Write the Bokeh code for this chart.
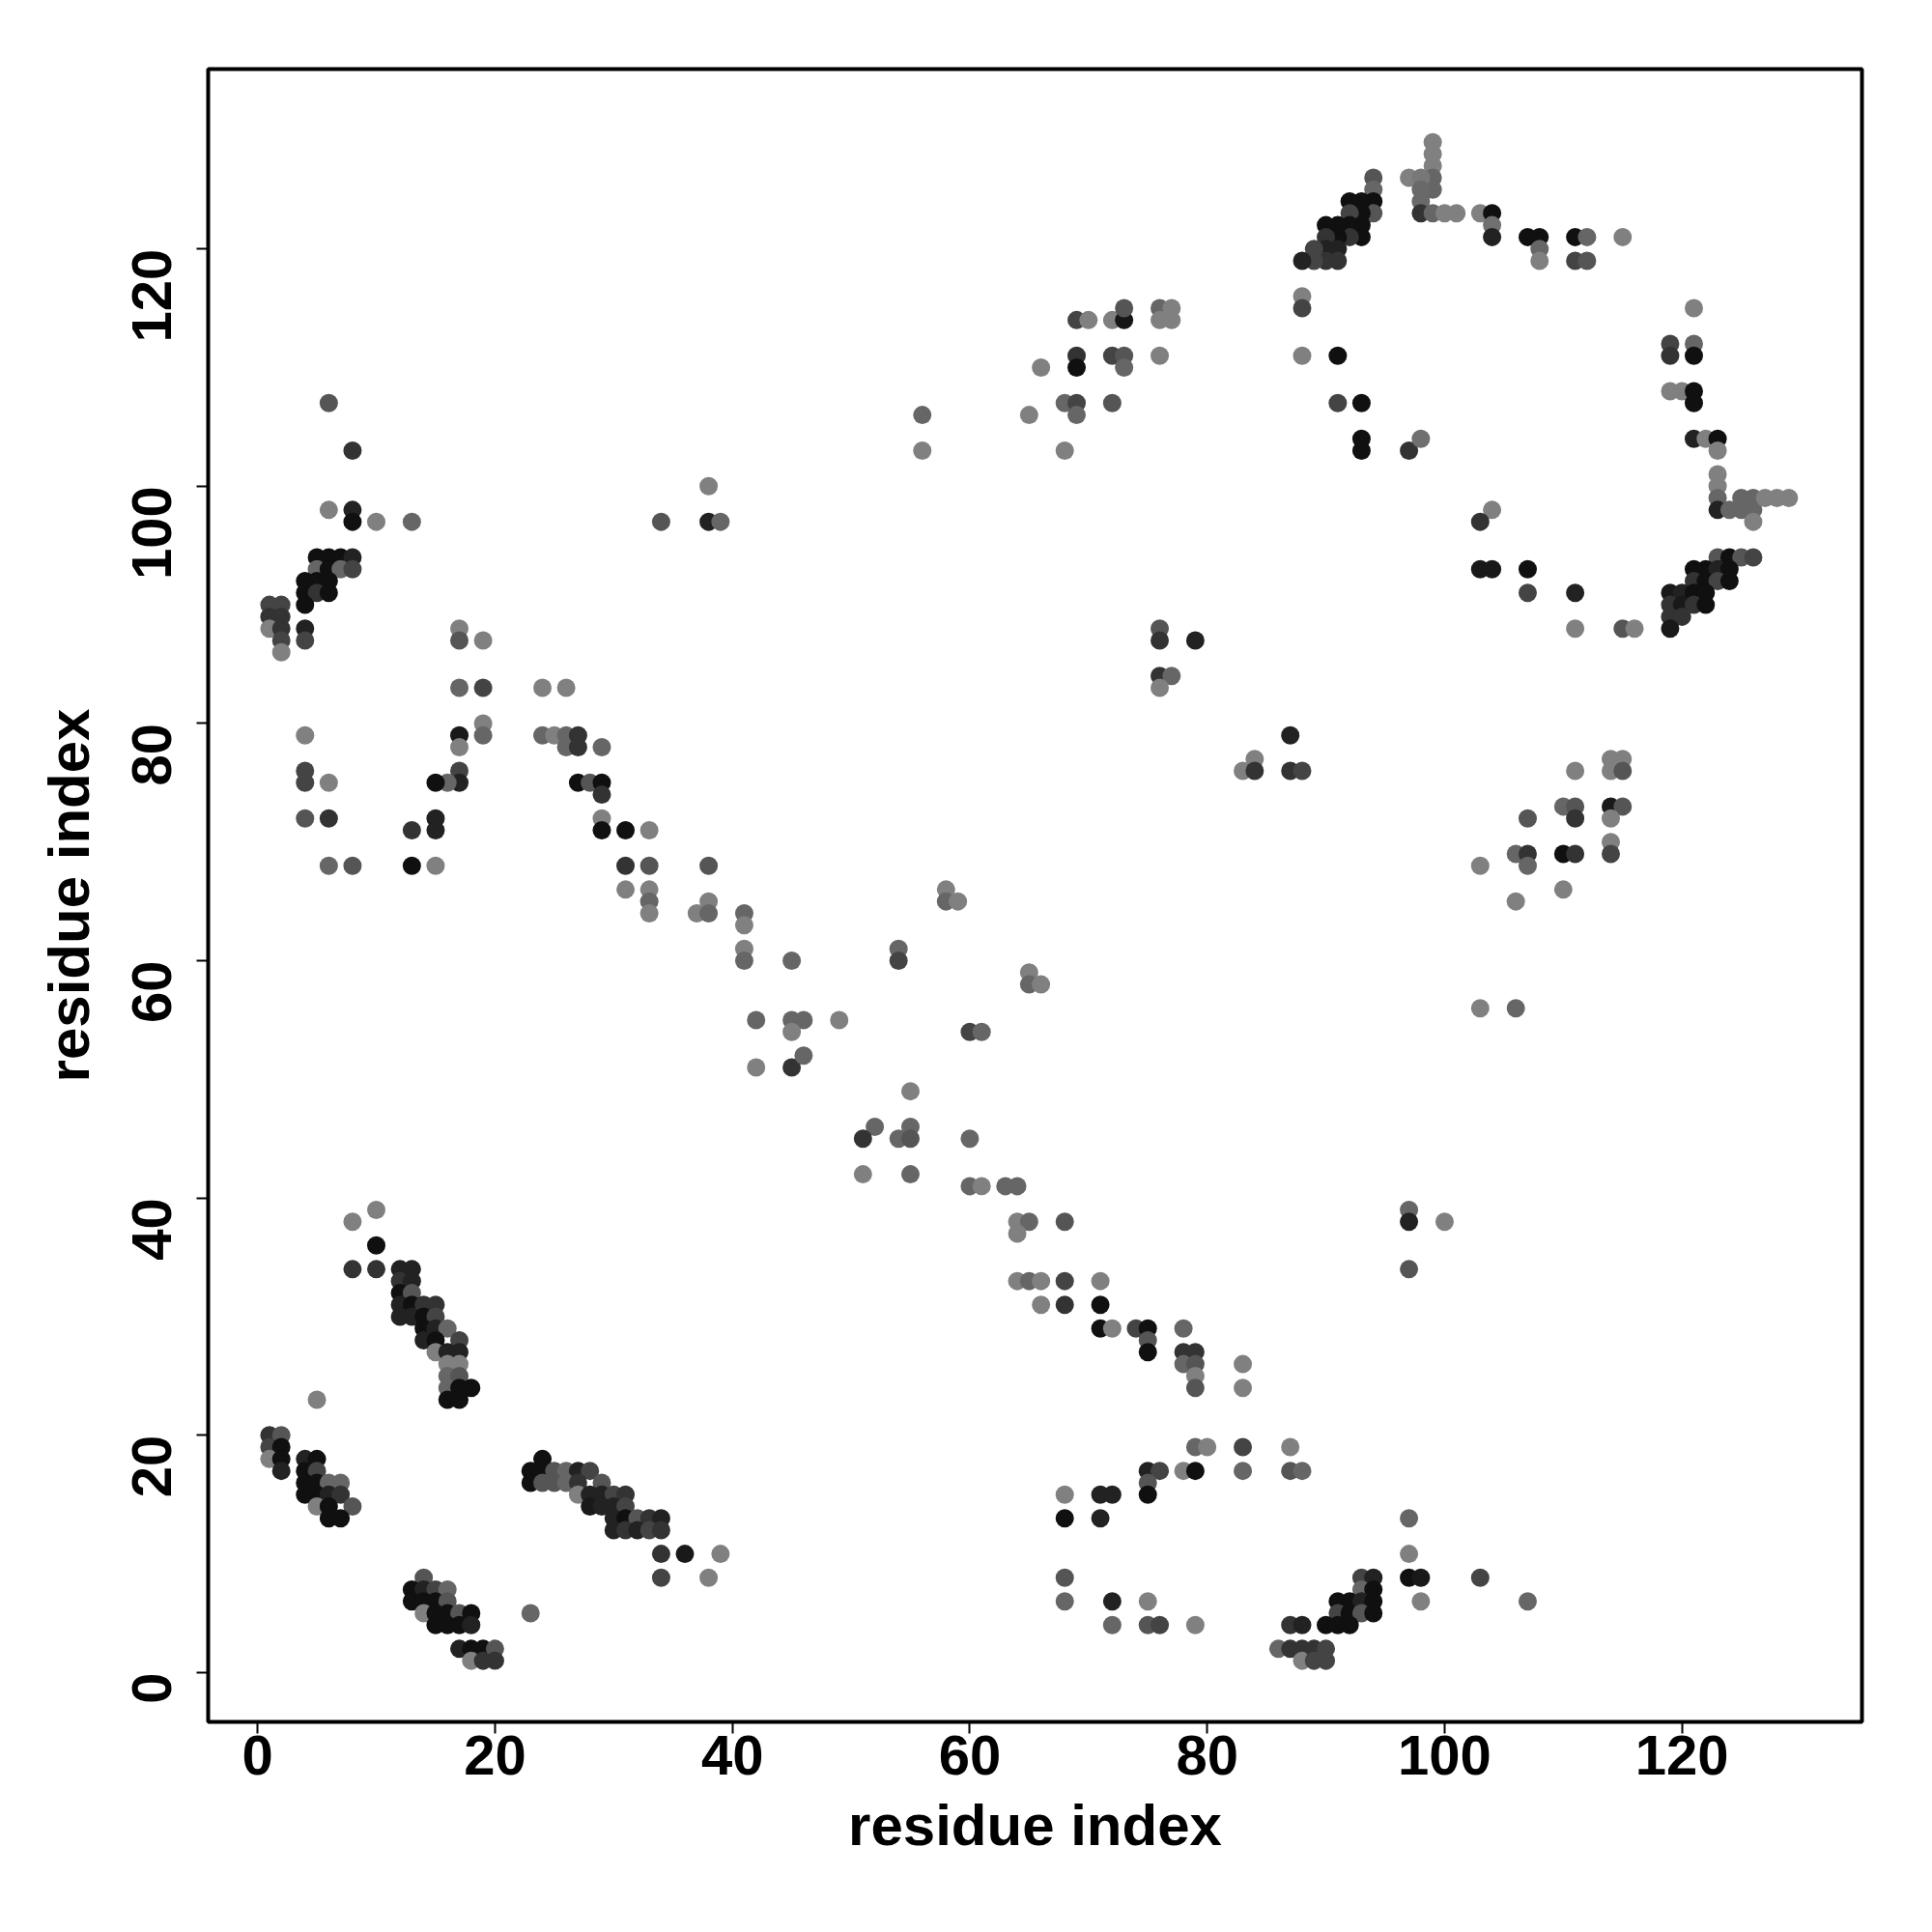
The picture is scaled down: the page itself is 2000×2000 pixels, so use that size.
from bokeh.plotting import figure
from bokeh.models import ColumnDataSource, LinearColorMapper, FixedTicker, Range1d
from bokeh.transform import transform
from bokeh.embed import file_html
from bokeh.resources import INLINE
import math

# contacts: (residue i, residue j, score) -- score 0..1, darker = higher
block_a = [(1,20,.66),(2,20,.43),(1,19,.55),(2,19,.89),(1,18,.15),(2,18,.89),(2,17,.77),
           (4,18,.77),(5,18,.89),(4,17,.89),(5,17,.55),(4,16,.89),(5,16,.89),(6,16,.32),(7,16,.32),
           (4,15,.89),(5,15,.89),(6,15,.77),(7,15,.66),(5,14,.15),(6,14,.89),(8,14,.43),(6,13,.89),(7,13,.89),
           (5,23,.15)]
block_b = [(10,39,.15),(8,38,.15),(10,36,.89),(8,34,.66),(10,34,.66),
           (12,34,.77),(13,34,.77),(12,33,.66),(13,33,.77),(12,32,.89),(13,32,.43),(12,31,.77),(13,31,.89),
           (14,31,.66),(15,31,.66),(12,30,.77),(13,30,.77),(14,30,.89),(15,30,.55),(14,29,.89),(15,29,.77),
           (16,29,.32),(14,28,.77),(15,28,.89),(17,28,.55),(15,27,.15),(16,27,.77),(17,27,.77),(16,26,.15),
           (17,26,.15),(16,25,.32),(17,25,.43),(16,24,.32),(17,24,.89),(18,24,.89),(16,23,.89),(17,23,.89)]
block_c = [(14,8,.43),(13,7,.89),(14,7,.77),(15,7,.55),(16,7,.32),(13,6,.89),(14,6,.89),(15,6,.89),(16,6,.43),
           (14,5,.15),(15,5,.89),(16,5,.89),(17,5,.43),(18,5,.89),(15,4,.89),(16,4,.89),(17,4,.89),(18,4,.77),
           (17,2,.77),(18,2,.89),(19,2,.89),(20,2,.43),(18,1,.15),(19,1,.66),(20,1,.66),(23,5,.32)]
block_d = [(24,18,.89),(23,17,.89),(24,17,.89),(25,17,.43),(26,17,.32),(27,17,.77),(28,17,.55),
           (23,16,.89),(24,16,.43),(25,16,.43),(26,16,.32),(27,16,.66),(29,16,.43),
           (27,15,.15),(28,15,.77),(29,15,.77),(30,15,.55),(31,15,.66),
           (28,14,.83),(29,14,.77),(30,14,.77),(31,14,.55),
           (30,13,.77),(31,13,.89),(32,13,.43),(33,13,.66),(34,13,.77),
           (30,12,.77),(31,12,.66),(32,12,.77),(33,12,.55),(34,12,.66),
           (34,10,.66),(36,10,.83),(39,10,.15),(34,8,.55),(38,8,.15)]
block_e = [(6,107,.43),(8,103,.66),(6,98,.15),(8,98,.77),(8,97,.89),(10,97,.15),(13,97,.32),
           (5,94,.89),(6,94,.89),(7,94,.89),(8,94,.77),(5,93,.32),(6,93,.89),(7,93,.32),(8,93,.55),
           (4,92,.89),(5,92,.89),(6,92,.89),(4,91,.89),(5,91,.66),(6,91,.89),(4,90,.89),
           (1,90,.55),(2,90,.55),(1,89,.66),(2,89,.66),(1,88,.15),(2,88,.66),(2,87,.55),(2,86,.15),
           (4,88,.77),(4,87,.55),(34,97,.43),(38,100,.15),(38,97,.77),(39,97,.32)]
block_f = [(17,88,.15),(17,87,.43),(19,87,.15),(17,83,.32),(19,83,.55),(19,80,.15),(19,79,.32),(17,79,.83),
           (17,78,.15),(4,79,.15),(4,76,.55),(4,75,.55),(6,75,.15),(17,76,.55),(17,75,.77),(16,75,.32),(15,75,.89),
           (4,72,.43),(6,72,.66),(15,72,.77),(15,71,.77),(13,71,.66),
           (6,68,.32),(8,68,.43),(13,68,.89),(15,68,.15)]
block_g = [(24,83,.15),(26,83,.15),(24,79,.32),(25,79,.15),(26,79,.32),(26,78,.32),(27,79,.66),(27,78,.66),
           (29,78,.32),(27,75,.89),(28,75,.43),(29,75,.89),(29,74,.66),(29,72,.15),(29,71,.89),(31,71,.89),
           (33,71,.15),(31,68,.66),(33,68,.43),(38,68,.43),(31,66,.15),(33,66,.15),
           (33,65,.32),(33,64,.15),(37,64,.15),(38,65,.15),(38,64,.32),(41,64,.32),(41,63,.15),(41,61,.15),
           (41,60,.32),(42,55,.32),(42,51,.15),(45,60,.32),(45,55,.32),(46,55,.32),(45,54,.15),(49,55,.15),
           (45,51,.66),(46,52,.32)]
block_h = [(58,66,.15),(58,65,.32),(59,65,.15),(54,61,.32),(54,60,.55),(65,59,.15),(65,58,.32),(66,58,.15),
           (60,54,.55),(61,54,.32),(55,49,.15),(52,46,.32),(51,45,.66),(54,45,.32),(55,46,.32),(55,45,.43),
           (60,45,.32),(51,42,.15),(55,42,.32),(60,41,.32),(61,41,.15),(63,41,.32),(64,41,.32),
           (64,38,.15),(65,38,.32),(64,37,.15),(68,38,.43),
           (64,33,.15),(65,33,.32),(66,33,.15),(68,33,.55),(71,33,.15),(66,31,.15),(68,31,.66),(71,31,.89)]
block_i = [(71,29,.89),(72,29,.15),(74,29,.55),(75,29,.89),(75,28,.43),(75,27,.89),(78,29,.32),
           (78,27,.66),(79,27,.66),(78,26,.32),(79,26,.43),(79,25,.15),(79,24,.43),(83,26,.15),(83,24,.15),
           (79,19,.32),(80,19,.15),(83,19,.55),(87,19,.15),
           (75,17,.77),(76,17,.55),(78,17,.15),(79,17,.89),(83,17,.32),(87,17,.43),(88,17,.32),
           (75,16,.43),(75,15,.89),(68,15,.15),(71,15,.77),(72,15,.77),(68,13,.89),(71,13,.77),
           (68,8,.43),(68,6,.32),(72,6,.77),(75,6,.15),(72,4,.32),(75,4,.43),(76,4,.55),(79,4,.15),
           (87,4,.66),(88,4,.77),(86,2,.32),(87,2,.66),(88,2,.66),(88,1,.15)]
block_j = [(93,8,.55),(94,8,.77),(93,7,.32),(94,7,.89),(91,6,.89),(92,6,.89),(93,6,.77),(94,6,.89),
           (91,5,.55),(92,5,.89),(93,5,.43),(94,5,.89),(90,4,.89),(91,4,.89),(92,4,.89),
           (89,2,.66),(90,2,.55),(89,1,.55),(90,1,.55),
           (97,13,.32),(97,10,.15),(97,8,.89),(98,8,.83),(98,6,.15),(103,8,.55),(107,6,.32),
           (97,39,.32),(97,38,.77),(100,38,.15),(97,34,.43)]
block_k = [(76,88,.43),(76,87,.66),(79,87,.77),(76,84,.66),(77,84,.32),(76,83,.15),
           (87,79,.77),(84,77,.15),(83,76,.15),(84,76,.66),(87,76,.66),(88,76,.55)]
block_l = [(69,114,.55),(70,114,.15),(72,114,.15),(73,114,.85),(73,115,.43),(76,115,.32),(77,115,.15),
           (76,114,.15),(77,114,.15),(69,111,.66),(69,110,.89),(72,111,.55),(73,111,.43),(73,110,.32),
           (76,111,.15),(66,110,.15),(68,107,.32),(69,107,.55),(69,106,.32),(72,107,.43),(56,106,.32),
           (65,106,.15),(56,103,.15),(68,103,.15)]
block_m = [(99,129,.15),(99,128,.15),(99,127,.15),(99,126,.32),(99,125,.32),(97,126,.15),(98,126,.2),
           (98,125,.3),(98,124,.3),(98,123,.66),(99,123,.32),(100,123,.15),(101,123,.15),(103,123,.15),
           (104,123,.89),(104,122,.25),(104,121,.77),(107,121,.89),(108,121,.89),(108,120,.32),(108,119,.15),
           (111,121,.89),(112,121,.32),(111,119,.55),(112,119,.43),(115,121,.15),
           (94,126,.43),(94,125,.32),(94,124,.89),(94,123,.43),(93,124,.89),(92,124,.89),(93,123,.89),
           (92,123,.55),(93,122,.89),(92,122,.89),(93,121,.89),(92,121,.66),(91,122,.89),(91,121,.89),
           (90,122,.89),(90,121,.66),(91,120,.77),(90,120,.77),(91,119,.66),(90,119,.66),(89,120,.55),
           (89,119,.55),(88,119,.77),(88,116,.15),(88,115,.55),(88,111,.15),(91,111,.89),(91,107,.55),
           (93,107,.89),(93,104,.89),(93,103,.89),(97,103,.66),(98,104,.25)]
block_n = [(121,115,.15),(119,112,.55),(121,112,.32),(119,111,.66),(121,111,.89),(119,108,.15),(120,108,.15),
           (121,108,.89),(121,107,.89),(121,104,.77),(122,104,.15),(123,104,.89),(123,103,.15),(123,101,.15),
           (123,100,.15),(123,99,.32),(123,98,.77),(124,98,.32),(125,99,.32),(125,98,.32),(126,99,.32),
           (126,98,.32),(126,97,.15),(127,99,.15),(128,99,.15),(129,99,.15)]
block_o = [(104,98,.15),(103,97,.66),(103,93,.83),(104,93,.83),(107,93,.89),(107,91,.55),(111,91,.77),
           (111,88,.15),(115,88,.43),(116,88,.15)]
block_p = [(123,94,.43),(124,94,.89),(125,94,.43),(126,94,.55),(121,93,.89),(122,93,.89),(123,93,.77),
           (124,93,.89),(121,92,.66),(122,92,.89),(123,92,.55),(124,92,.89),(119,91,.83),(120,91,.77),
           (121,91,.89),(122,91,.89),(119,90,.66),(120,90,.83),(121,90,.66),(122,90,.89),(119,89,.66),
           (120,89,.66),(119,88,.83)]
block_q = [(114,77,.15),(115,77,.15),(114,76,.15),(115,76,.43),(111,76,.15),(110,73,.32),(111,73,.43),
           (111,72,.66),(114,73,.83),(115,73,.43),(114,72,.15),(114,70,.15),(114,69,.55),(107,72,.43),
           (106,69,.32),(107,69,.66),(107,68,.32),(110,69,.89),(111,69,.66),(103,68,.15),(110,66,.15),
           (106,65,.15),(103,56,.15),(106,56,.32)]

axis_ticks = [0, 20, 40, 60, 80, 100, 120]
axis_title = "residue index"

blocks = [block_a, block_b, block_c, block_d, block_e, block_f, block_g, block_h, block_i,
          block_j, block_k, block_l, block_m, block_n, block_o, block_p, block_q]
res_i = [c[0] for b in blocks for c in b]
res_j = [c[1] for b in blocks for c in b]
score = [c[2] for b in blocks for c in b]

source = ColumnDataSource(data=dict(x=res_i, y=res_j, score=score))

palette = ["#%02x%02x%02x" % (v, v, v) for v in
           [int(round(150 * (1 - k / 255))) for k in range(256)]]
mapper = LinearColorMapper(palette=palette, low=0, high=1)

FONT = "Liberation Sans"

p = figure(frame_width=1712, frame_height=1711,
           min_border_left=215, min_border_top=71, min_border_right=53, min_border_bottom=198,
           x_range=Range1d(-4.16, 135.16), y_range=Range1d(-4.16, 135.16),
           output_backend="svg", toolbar_location=None,
           background_fill_color="white", border_fill_color="white")

p.scatter("x", "y", source=source, size=19,
          fill_color=transform("score", mapper), line_color=None)

p.grid.visible = False
p.outline_line_color = "black"
p.outline_line_width = 4
p.outline_line_alpha = 1

for ax in (p.xaxis[0], p.yaxis[0]):
    ax.ticker = FixedTicker(ticks=axis_ticks)
    ax.axis_line_color = None
    ax.major_tick_line_color = "black"
    ax.major_tick_line_width = 2
    ax.major_tick_out = 12
    ax.major_tick_in = 0
    ax.minor_tick_line_color = None
    ax.major_label_text_font = FONT
    ax.major_label_text_font_style = "bold"
    ax.major_label_text_font_size = "58px"
    ax.major_label_text_color = "black"
    ax.axis_label = axis_title
    ax.axis_label_text_font = FONT
    ax.axis_label_text_font_style = "bold"
    ax.axis_label_text_font_size = "60px"
    ax.axis_label_text_color = "black"

p.xaxis[0].major_label_standoff = 2
p.xaxis[0].axis_label_standoff = 16
p.yaxis[0].major_label_orientation = math.pi / 2
p.yaxis[0].major_label_standoff = 46
p.yaxis[0].axis_label_standoff = 10

open("out.html", "w").write(file_html(p, INLINE))
